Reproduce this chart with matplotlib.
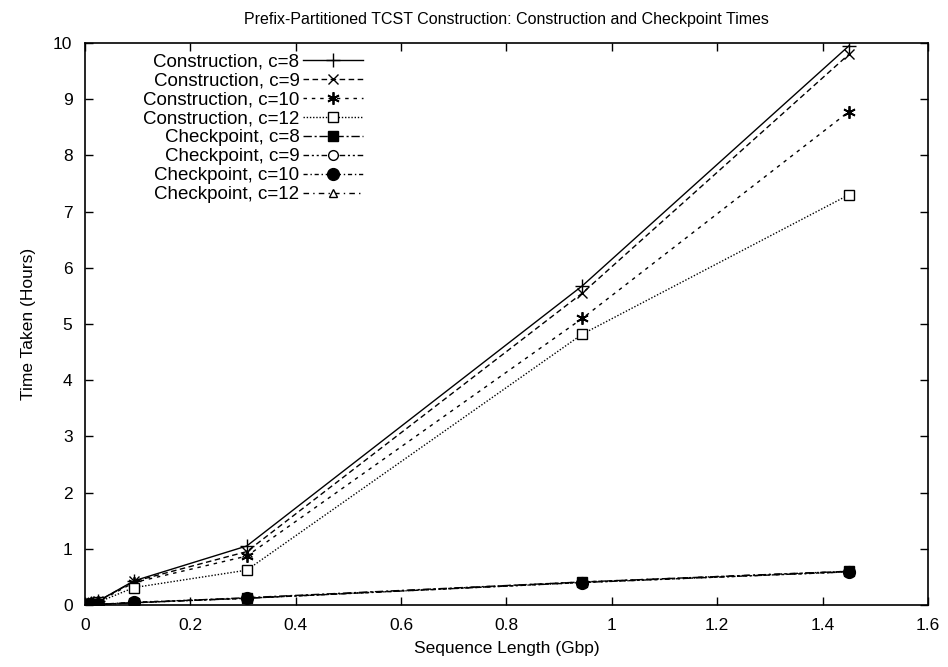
from matplotlib import pyplot as plt

plt.rcParams['font.family'] = ['Liberation Sans', 'DejaVu Sans']
plt.rcParams['font.size'] = 12

# sequence length (Gbp)
seq_len = [0.005, 0.012, 0.025, 0.093, 0.307, 0.944, 1.45]

# construction times (hours)
cons_c8 = [0.01, 0.03, 0.07, 0.43, 1.05, 5.68, 9.95]
cons_c9 = [0.01, 0.03, 0.07, 0.42, 0.95, 5.55, 9.80]
cons_c10 = [0.01, 0.03, 0.06, 0.40, 0.87, 5.10, 8.78]
cons_c12 = [0.01, 0.02, 0.05, 0.31, 0.62, 4.82, 7.30]

# checkpoint times (hours)
chk_c8 = [0.00, 0.01, 0.01, 0.04, 0.13, 0.41, 0.60]
chk_c9 = [0.00, 0.01, 0.01, 0.04, 0.12, 0.40, 0.59]
chk_c10 = [0.00, 0.01, 0.01, 0.05, 0.12, 0.40, 0.59]
chk_c12 = [0.00, 0.01, 0.01, 0.04, 0.12, 0.41, 0.60]

xticks = [0, 0.2, 0.4, 0.6, 0.8, 1, 1.2, 1.4, 1.6]
xticklabels = ['0', '0.2', '0.4', '0.6', '0.8', '1', '1.2', '1.4', '1.6']

fig = plt.figure(figsize=(9.48, 6.67), dpi=100)
ax = fig.add_axes([85/948, 62/667, 843/948, 562/667])

lw = 1.0
ax.plot(seq_len, cons_c8, color='black', lw=lw, ls='-', marker='+', ms=10, mew=1.0,
        label='Construction, c=8')
ax.plot(seq_len, cons_c9, color='black', lw=lw, ls=(0, (4, 2.5)), marker='x', ms=7, mew=1.0,
        label='Construction, c=9')
ax.plot(seq_len, cons_c10, color='black', lw=lw, ls=(0, (2.5, 3.5)), marker=(6, 2, 0), ms=9, mew=1.3,
        label='Construction, c=10')
ax.plot(seq_len, cons_c12, color='black', lw=lw, ls=(0, (1, 1.3)), marker='s', ms=7, mew=1.0,
        mfc='white', label='Construction, c=12')
ax.plot(seq_len, chk_c8, color='black', lw=lw, ls=(0, (6, 2, 1.5, 2)), marker='s', ms=7.5,
        label='Checkpoint, c=8')
ax.plot(seq_len, chk_c9, color='black', lw=lw, ls=(0, (4, 2, 1.5, 2, 1.5, 2)), marker='o', ms=7,
        mfc='white', label='Checkpoint, c=9')
ax.plot(seq_len, chk_c12, color='black', lw=lw, ls=(0, (4, 3, 1, 3)), marker='^', ms=6,
        mfc='white', label='Checkpoint, c=12')
ax.plot(seq_len, chk_c10, color='black', lw=lw, ls=(0, (3, 2, 1, 2)), marker='o', ms=8.5,
        label='Checkpoint, c=10')

ax.set_xlim(0, 1.6)
ax.set_ylim(0, 10)
ax.set_xticks(xticks)
ax.set_xticklabels(xticklabels)
ax.set_yticks(range(0, 11))
ax.tick_params(direction='in', top=True, right=True, length=6, width=1, labelsize=12.5, pad=9)
for s in ax.spines.values():
    s.set_linewidth(1.2)

ax.set_title('Prefix-Partitioned TCST Construction: Construction and Checkpoint Times',
             fontsize=11.5, pad=14)
ax.set_xlabel('Sequence Length (Gbp)', fontsize=12.5, labelpad=6)
ax.set_ylabel('Time Taken (Hours)', fontsize=12.5, labelpad=12)

# keep the legend rows in the original plotting order
h, l = ax.get_legend_handles_labels()
order = [0, 1, 2, 3, 4, 5, 7, 6]
leg = ax.legend([h[i] for i in order], [l[i] for i in order],
                loc='upper left', bbox_to_anchor=(143/948, 614/667),
                bbox_transform=fig.transFigure, frameon=False, markerfirst=False,
                borderpad=0, borderaxespad=0, handlelength=3.2, handletextpad=0.2,
                labelspacing=0.1, fontsize=13.5)

plt.savefig('out.png', dpi=100)
